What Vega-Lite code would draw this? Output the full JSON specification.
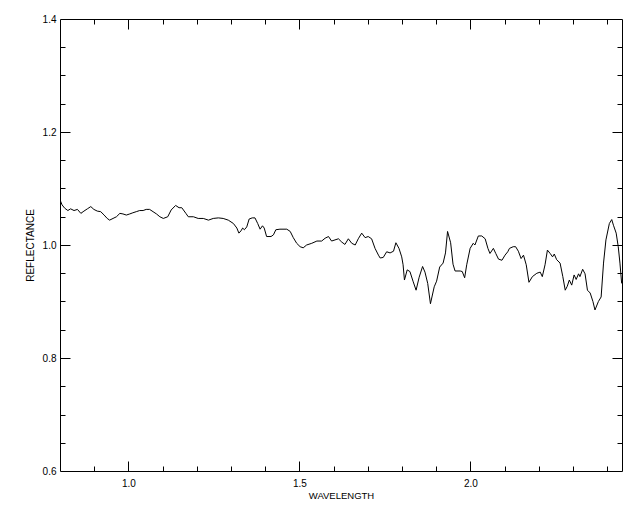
{
  "$schema": "https://vega.github.io/schema/vega-lite/v6.json",
  "width": 562,
  "height": 452,
  "autosize": {"type": "none"},
  "padding": {"left": 60, "top": 19, "right": 18, "bottom": 41},
  "background": "white",
  "config": {
    "view": {"stroke": null},
    "axis": {"grid": false, "domainColor": "black", "domainWidth": 1, "tickColor": "black", "tickWidth": 1, "labelColor": "black", "titleColor": "black", "labelFont": "Liberation Sans", "titleFont": "Liberation Sans", "titleFontWeight": "normal", "labelFlush": false, "labelOverlap": false, "labelBound": false}
  },
  "data": {"values": [
    {"w":0.800,"r":1.080},{"w":0.806,"r":1.071},{"w":0.814,"r":1.065},{"w":0.823,"r":1.061},{"w":0.831,"r":1.064},{"w":0.841,"r":1.061},{"w":0.851,"r":1.063},{"w":0.861,"r":1.056},{"w":0.870,"r":1.060},{"w":0.880,"r":1.064},{"w":0.890,"r":1.068},{"w":0.899,"r":1.063},{"w":0.909,"r":1.060},{"w":0.919,"r":1.059},{"w":0.929,"r":1.053},{"w":0.938,"r":1.047},{"w":0.945,"r":1.044},{"w":0.955,"r":1.047},{"w":0.965,"r":1.050},{"w":0.975,"r":1.056},{"w":0.984,"r":1.055},{"w":0.994,"r":1.053},{"w":1.004,"r":1.055},{"w":1.013,"r":1.057},{"w":1.023,"r":1.059},{"w":1.033,"r":1.061},{"w":1.043,"r":1.061},{"w":1.052,"r":1.063},{"w":1.062,"r":1.063},{"w":1.072,"r":1.059},{"w":1.082,"r":1.055},{"w":1.092,"r":1.050},{"w":1.102,"r":1.047},{"w":1.115,"r":1.050},{"w":1.125,"r":1.062},{"w":1.138,"r":1.070},{"w":1.148,"r":1.066},{"w":1.156,"r":1.066},{"w":1.168,"r":1.056},{"w":1.175,"r":1.050},{"w":1.190,"r":1.050},{"w":1.204,"r":1.047},{"w":1.219,"r":1.047},{"w":1.234,"r":1.044},{"w":1.248,"r":1.047},{"w":1.263,"r":1.048},{"w":1.277,"r":1.047},{"w":1.292,"r":1.044},{"w":1.307,"r":1.038},{"w":1.317,"r":1.030},{"w":1.323,"r":1.021},{"w":1.329,"r":1.025},{"w":1.334,"r":1.030},{"w":1.339,"r":1.027},{"w":1.346,"r":1.032},{"w":1.353,"r":1.046},{"w":1.362,"r":1.048},{"w":1.370,"r":1.048},{"w":1.378,"r":1.038},{"w":1.385,"r":1.028},{"w":1.392,"r":1.034},{"w":1.397,"r":1.030},{"w":1.404,"r":1.015},{"w":1.417,"r":1.015},{"w":1.424,"r":1.018},{"w":1.431,"r":1.027},{"w":1.443,"r":1.028},{"w":1.463,"r":1.028},{"w":1.473,"r":1.024},{"w":1.482,"r":1.013},{"w":1.492,"r":1.003},{"w":1.502,"r":0.997},{"w":1.511,"r":0.995},{"w":1.521,"r":1.000},{"w":1.536,"r":1.003},{"w":1.551,"r":1.007},{"w":1.565,"r":1.007},{"w":1.575,"r":1.012},{"w":1.585,"r":1.015},{"w":1.594,"r":1.007},{"w":1.604,"r":1.009},{"w":1.614,"r":1.011},{"w":1.624,"r":1.005},{"w":1.633,"r":1.001},{"w":1.643,"r":1.011},{"w":1.653,"r":1.003},{"w":1.663,"r":1.000},{"w":1.672,"r":1.011},{"w":1.682,"r":1.021},{"w":1.692,"r":1.013},{"w":1.701,"r":1.015},{"w":1.711,"r":1.011},{"w":1.721,"r":0.994},{"w":1.731,"r":0.982},{"w":1.736,"r":0.977},{"w":1.745,"r":0.978},{"w":1.755,"r":0.988},{"w":1.765,"r":0.986},{"w":1.775,"r":0.989},{"w":1.782,"r":1.004},{"w":1.791,"r":0.994},{"w":1.799,"r":0.979},{"w":1.803,"r":0.965},{"w":1.807,"r":0.938},{"w":1.815,"r":0.956},{"w":1.823,"r":0.953},{"w":1.832,"r":0.936},{"w":1.841,"r":0.920},{"w":1.850,"r":0.943},{"w":1.860,"r":0.962},{"w":1.867,"r":0.952},{"w":1.875,"r":0.932},{"w":1.883,"r":0.896},{"w":1.894,"r":0.926},{"w":1.901,"r":0.936},{"w":1.910,"r":0.961},{"w":1.920,"r":0.968},{"w":1.927,"r":0.986},{"w":1.933,"r":1.024},{"w":1.942,"r":1.004},{"w":1.949,"r":0.966},{"w":1.955,"r":0.954},{"w":1.970,"r":0.954},{"w":1.976,"r":0.953},{"w":1.983,"r":0.942},{"w":1.989,"r":0.965},{"w":1.999,"r":0.994},{"w":2.008,"r":1.003},{"w":2.013,"r":1.000},{"w":2.023,"r":1.016},{"w":2.033,"r":1.016},{"w":2.043,"r":1.011},{"w":2.051,"r":0.994},{"w":2.057,"r":0.985},{"w":2.067,"r":0.994},{"w":2.074,"r":0.985},{"w":2.082,"r":0.975},{"w":2.092,"r":0.973},{"w":2.101,"r":0.982},{"w":2.109,"r":0.988},{"w":2.114,"r":0.994},{"w":2.125,"r":0.997},{"w":2.132,"r":0.997},{"w":2.140,"r":0.989},{"w":2.148,"r":0.976},{"w":2.155,"r":0.982},{"w":2.163,"r":0.965},{"w":2.171,"r":0.934},{"w":2.181,"r":0.944},{"w":2.194,"r":0.950},{"w":2.204,"r":0.952},{"w":2.210,"r":0.944},{"w":2.218,"r":0.965},{"w":2.225,"r":0.991},{"w":2.233,"r":0.985},{"w":2.240,"r":0.979},{"w":2.245,"r":0.984},{"w":2.252,"r":0.974},{"w":2.262,"r":0.968},{"w":2.270,"r":0.944},{"w":2.277,"r":0.920},{"w":2.283,"r":0.927},{"w":2.289,"r":0.938},{"w":2.296,"r":0.929},{"w":2.303,"r":0.947},{"w":2.309,"r":0.939},{"w":2.316,"r":0.949},{"w":2.320,"r":0.944},{"w":2.328,"r":0.957},{"w":2.335,"r":0.949},{"w":2.342,"r":0.920},{"w":2.350,"r":0.915},{"w":2.358,"r":0.900},{"w":2.364,"r":0.885},{"w":2.374,"r":0.900},{"w":2.382,"r":0.908},{"w":2.389,"r":0.968},{"w":2.396,"r":1.009},{"w":2.406,"r":1.038},{"w":2.413,"r":1.045},{"w":2.418,"r":1.035},{"w":2.426,"r":1.021},{"w":2.432,"r":0.997},{"w":2.437,"r":0.968},{"w":2.442,"r":0.932}
  ]},
  "resolve": {"axis": {"x": "independent", "y": "independent"}},
  "layer": [
    {
      "mark": {"type": "line", "color": "black", "strokeWidth": 1, "clip": true},
      "encoding": {
        "x": {"field": "w", "type": "quantitative", "sort": null,
          "scale": {"domain": [0.8, 2.443], "nice": false, "zero": false},
          "axis": {"orient": "bottom", "values": [1.0, 1.5, 2.0], "format": ".1f", "ticks": false, "domain": true, "labelPadding": 7, "labelFontSize": 10,
            "title": "WAVELENGTH", "titleFontSize": 9.5, "titleX": 281, "titleY": 24, "titleBaseline": "middle", "titleAlign": "center"}},
        "y": {"field": "r", "type": "quantitative",
          "scale": {"domain": [0.6, 1.4], "nice": false, "zero": false},
          "axis": {"orient": "left", "values": [0.6, 0.8, 1.0, 1.2, 1.4], "format": ".1f", "ticks": false, "domain": true, "labelPadding": 4, "labelFontSize": 10,
            "title": "REFLECTANCE", "titleFontSize": 10, "titleX": -30, "titleY": 226, "titleAngle": -90, "titleBaseline": "middle", "titleAlign": "center"}}
      }
    },
    {
      "mark": {"type": "line", "opacity": 0},
      "encoding": {
        "x": {"field": "w", "type": "quantitative", "sort": null, "scale": {"domain": [0.8, 2.443], "nice": false, "zero": false},
          "axis": {"orient": "bottom", "values": [1.0, 1.5, 2.0], "labels": false, "domain": false, "tickSize": -10, "title": null}},
        "y": {"field": "r", "type": "quantitative", "scale": {"domain": [0.6, 1.4], "nice": false, "zero": false},
          "axis": {"orient": "left", "values": [0.8, 1.0, 1.2], "labels": false, "domain": false, "tickSize": -10, "title": null}}
      }
    },
    {
      "mark": {"type": "line", "opacity": 0},
      "encoding": {
        "x": {"field": "w", "type": "quantitative", "sort": null, "scale": {"domain": [0.8, 2.443], "nice": false, "zero": false},
          "axis": {"orient": "bottom", "values": [0.9, 1.1, 1.2, 1.3, 1.4, 1.6, 1.7, 1.8, 1.9, 2.1, 2.2, 2.3, 2.4], "labels": false, "domain": false, "tickSize": -5, "title": null}},
        "y": {"field": "r", "type": "quantitative", "scale": {"domain": [0.6, 1.4], "nice": false, "zero": false},
          "axis": {"orient": "left", "values": [0.65, 0.7, 0.75, 0.85, 0.9, 0.95, 1.05, 1.1, 1.15, 1.25, 1.3, 1.35], "labels": false, "domain": false, "tickSize": -5, "title": null}}
      }
    },
    {
      "mark": {"type": "line", "opacity": 0},
      "encoding": {
        "x": {"field": "w", "type": "quantitative", "sort": null, "scale": {"domain": [0.8, 2.443], "nice": false, "zero": false},
          "axis": {"orient": "top", "values": [1.0, 1.5, 2.0], "labels": false, "domain": true, "tickSize": -10, "title": null}},
        "y": {"field": "r", "type": "quantitative", "scale": {"domain": [0.6, 1.4], "nice": false, "zero": false},
          "axis": {"orient": "right", "values": [0.8, 1.0, 1.2], "labels": false, "domain": true, "tickSize": -10, "title": null}}
      }
    },
    {
      "mark": {"type": "line", "opacity": 0},
      "encoding": {
        "x": {"field": "w", "type": "quantitative", "sort": null, "scale": {"domain": [0.8, 2.443], "nice": false, "zero": false},
          "axis": {"orient": "top", "values": [0.9, 1.1, 1.2, 1.3, 1.4, 1.6, 1.7, 1.8, 1.9, 2.1, 2.2, 2.3, 2.4], "labels": false, "domain": false, "tickSize": -5, "title": null}},
        "y": {"field": "r", "type": "quantitative", "scale": {"domain": [0.6, 1.4], "nice": false, "zero": false},
          "axis": {"orient": "right", "values": [0.65, 0.7, 0.75, 0.85, 0.9, 0.95, 1.05, 1.1, 1.15, 1.25, 1.3, 1.35], "labels": false, "domain": false, "tickSize": -5, "title": null}}
      }
    }
  ]
}
